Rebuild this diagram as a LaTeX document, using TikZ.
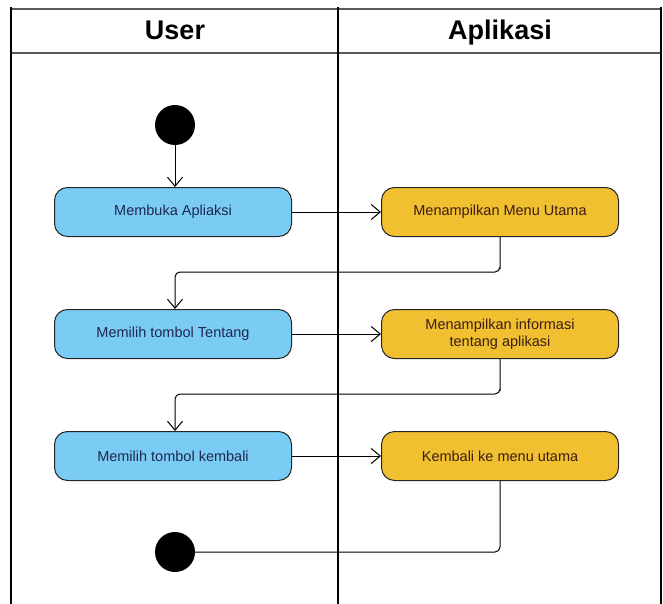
\documentclass[tikz,border=0pt]{standalone}
\usepackage{fontspec}
\setmainfont{Liberation Sans}
\usetikzlibrary{arrows.meta,positioning}

\definecolor{userblue}{RGB}{122,204,244}
\definecolor{appyellow}{RGB}{240,192,48}
\definecolor{usertext}{RGB}{30,40,80}
\definecolor{apptext}{RGB}{60,30,20}

\begin{document}
\begin{tikzpicture}[
      x=1pt, y=-1pt,
      >={Straight Barb[length=9pt,width=15pt]},
      every node/.style={font=\fontsize{14.5}{17}\selectfont},
      node distance=327pt,
      useract/.style={
        draw=black!85,
        line width=1pt,
        fill=userblue,
        text=usertext,
        rounded corners=13pt,
        minimum width=237pt,
        minimum height=49pt
      },
      appact/.style={
        useract,
        fill=appyellow,
        text=apptext,
        align=center
      },
      blackdot/.style={
        circle,
        fill=black,
        minimum size=40pt,
        inner sep=0pt
      },
      flow/.style={
        ->,
        line width=1pt,
        rounded corners=5pt
      },
      lane/.style={line width=1.3pt},
      lanehead/.style={font=\bfseries\fontsize{27}{30}\selectfont, anchor=base}
  ]
  \useasboundingbox (0,0) rectangle (663,604);

  % Swimlanes
  \draw[lane, black!65] (11,9) -- (661,9);
  \draw[lane, black!65] (11,53) -- (661,53);
  \draw[lane] (11,7) -- (11,604);
  \draw[lane] (338,7) -- (338,604);
  \draw[lane] (661,7) -- (661,604);
  \node[lanehead] (userhead) at (175,40) {User};
  \node[lanehead] (apphead) at (500,40) {Aplikasi};

  % Activities
  \node[blackdot] (start) at (175,125) {};
  \node[useract] (buka) at (173,212) {Membuka Apliaksi};
  \node[appact, right of=buka] (menu) {Menampilkan Menu Utama};
  \node[useract, below of=buka, node distance=122pt] (tentang) {Memilih tombol Tentang};
  \node[appact, right of=tentang] (info) {Menampilkan informasi\\tentang aplikasi};
  \node[useract, below of=tentang, node distance=122pt] (kembali) {Memilih tombol kembali};
  \node[appact, right of=kembali] (utama) {Kembali ke menu utama};
  \node[blackdot] (stop) at (175,552) {};

  % Connecting Arrows
  \draw[flow] (start) -- (start |- buka.north);
  \draw[flow] (buka.east) -- (menu.west);
  \draw[flow] (menu.south) |- ++(0,35) -| (tentang.north -| start);
  \draw[flow] (tentang.east) -- (info.west);
  \draw[flow] (info.south) |- ++(0,35) -| (kembali.north -| start);
  \draw[flow] (kembali.east) -- (utama.west);
  \draw[line width=1pt, rounded corners=5pt] (utama.south) |- (stop.east);

\end{tikzpicture}
\end{document}
